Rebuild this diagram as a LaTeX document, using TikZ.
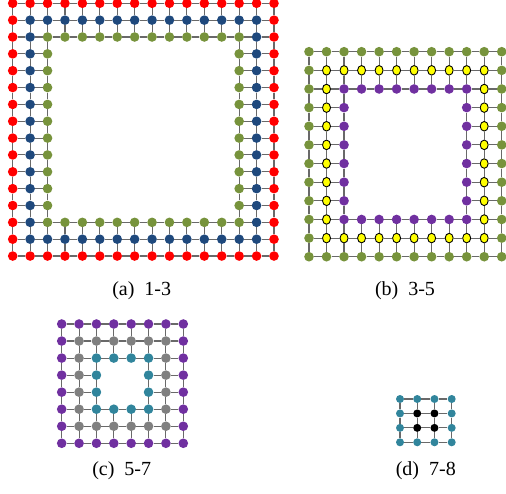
\documentclass[tikz,border=0pt]{standalone}
\usepackage{fontspec}
\setmainfont{Liberation Serif}
\usepackage{xcolor}
\usepackage{tikz}
\usetikzlibrary{shapes.geometric}

\definecolor{dotred}{RGB}{255,0,0}
\definecolor{dotblue}{RGB}{31,73,125}
\definecolor{dotgreen}{RGB}{119,147,60}
\definecolor{dotyellow}{RGB}{255,255,0}
\definecolor{dotpurple}{RGB}{112,48,160}
\definecolor{dotgray}{RGB}{128,128,128}
\definecolor{dotteal}{RGB}{49,133,156}
\definecolor{linkgray}{RGB}{105,105,105}

\tikzset{
    dot/.style={circle, inner sep=0pt, minimum size=9.6pt},
    link/.style={linkgray, line width=1.1pt},
    caption/.style={font=\fontsize{20}{22}\selectfont},
    a0/.style={dot, fill=dotred},
    a1/.style={dot, fill=dotblue},
    a2/.style={dot, fill=dotgreen},
    b0/.style={dot, fill=dotgreen},
    b1/.style={ellipse, inner sep=0pt, minimum width=8pt, minimum height=9.6pt,
        fill=dotyellow, draw=black, line width=0.9pt},
    b2/.style={dot, fill=dotpurple},
    c0/.style={dot, fill=dotpurple},
    c1/.style={dot, fill=dotgray},
    c2/.style={dot, fill=dotteal},
    d0/.style={dot, minimum size=8pt, fill=dotteal},
    d1/.style={dot, minimum size=8pt, fill=black}
}

\begin{document}
\begin{tikzpicture}[x=1pt, y=-1pt]
    \useasboundingbox (0,0) rectangle (506,494);

    % panel / last index / rings / origin / spacing
    \foreach \p/\m/\k/\xo/\yo/\dx/\dy in {a/15/3/12.7/3.3/17.42/16.85,
        b/11/3/309/51.7/17.52/18.64, c/7/3/61.7/324/17.37/17.04,
        d/3/2/400/399/17.23/14.43} {

        \foreach \i in {0,...,\m} \foreach \j in {0,...,\m} {
            \pgfmathtruncatemacro\r{min(\i,\j,\m-\i,\m-\j)}
            \ifnum\r<\k \node[\p\r] (\p-\i-\j) at (\xo+\dx*\j, \yo+\dy*\i) {}; \fi
        }

        \foreach \i in {0,...,\m} \foreach \j in {1,...,\m} {
            \pgfmathtruncatemacro\jj{\j-1}
            \pgfmathtruncatemacro\r{max(min(\i,\j,\m-\i,\m-\j),min(\i,\jj,\m-\i,\m-\jj))}
            \ifnum\r<\k
                \draw[link] (\p-\i-\jj) -- (\p-\i-\j);
                \draw[link] (\p-\jj-\i) -- (\p-\j-\i);
            \fi
        }
    }

    \node[caption] (cap-a) at (141.7,290.5) {(a)\enspace 1-3};
    \node[caption] (cap-b) at (405,290.5) {(b)\enspace 3-5};
    \node[caption] (cap-c) at (121.7,471) {(c)\enspace 5-7};
    \node[caption] (cap-d) at (425.8,471) {(d)\enspace 7-8};

\end{tikzpicture}
\end{document}
